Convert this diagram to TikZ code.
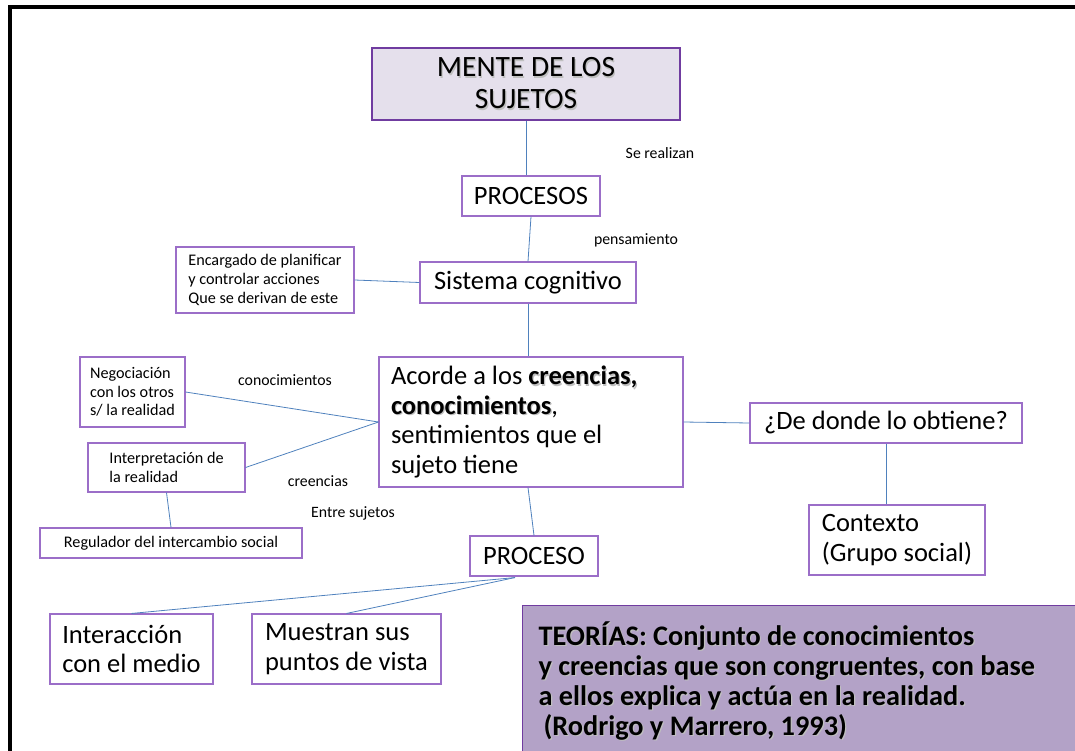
\documentclass[tikz,border=0pt]{standalone}
\usepackage{fontspec}
\setmainfont{Carlito}
\usetikzlibrary{calc}

\definecolor{boxpurple}{RGB}{155,110,200}
\definecolor{darkpurple}{RGB}{112,60,160}
\definecolor{linkblue}{RGB}{79,129,189}
\definecolor{mentefill}{RGB}{229,224,236}
\definecolor{teofill}{RGB}{179,162,199}

\newcommand{\shtext}[1]{\makebox[0pt][l]{\kern1.2pt\raisebox{-1.5pt}{\color{black!25}#1}}#1}
\newcommand{\smalltxt}{\fontsize{16.2}{18.6}\selectfont}
\newcommand{\bigtxt}{\fontsize{26.5}{29.5}\selectfont}

\begin{document}
\begin{tikzpicture}[x=1pt, y=-1pt,
	box/.style={draw=boxpurple, line width=1.1pt, fill=white, inner sep=0pt, align=left},
	link/.style={draw=linkblue, line width=0.8pt},
	tag/.style={font=\fontsize{15.8}{18}\selectfont, inner sep=0pt}]
\useasboundingbox (0,0) rectangle (1075,751);
% draw frame
	\draw[line width=4.5pt] (10,760) -- (10,7) -- (1085,7);
% draw boxes
	\node[box, draw=darkpurple, line width=1.8pt, fill=mentefill, align=center, minimum width=308, minimum height=72, font=\fontsize{29.5}{32}\selectfont] (mente) at (526,84) {\shtext{MENTE DE LOS}\\\shtext{SUJETOS}};
	\node[box, minimum width=138, minimum height=40, font=\bigtxt] (procesos) at (531,196) {PROCESOS};
	\node[box, minimum width=216, minimum height=41, font=\bigtxt] (sistema) at (528,282.5) {Sistema cognitivo};
	\node[box, minimum width=178, minimum height=66, font=\smalltxt] (encargado) at (265,280) {Encargado de planificar\\y controlar acciones\\Que se derivan de este};
	\node[box, align=flush left, text width=280, inner xsep=12, minimum height=130, font=\bigtxt] (acorde) at (531,422) {Acorde a los \textbf{\shtext{creencias,}}\\\textbf{\shtext{conocimientos}},\\sentimientos que el\\sujeto tiene};
	\node[box, minimum width=105, minimum height=70, font=\smalltxt] (negociacion) at (132.5,392) {Negociación\\con los otros\\s/ la realidad};
	\node[box, minimum width=157, minimum height=49, font=\smalltxt] (interpretacion) at (166.5,467.5) {Interpretación de\\la realidad};
	\node[box, minimum width=262, minimum height=30, font=\smalltxt] (regulador) at (171,543) {Regulador del intercambio social};
	\node[box, minimum width=128, minimum height=40, font=\bigtxt] (proceso) at (534,556) {PROCESO};
	\node[box, minimum width=163, minimum height=70, font=\bigtxt] (interaccion) at (131.5,649) {Interacción\\con el medio};
	\node[box, minimum width=189, minimum height=70, font=\bigtxt] (muestran) at (346.5,649) {Muestran sus\\puntos de vista};
	\node[box, minimum width=272, minimum height=40, font=\bigtxt] (donde) at (886,423) {¿De donde lo obtiene?};
	\node[box, minimum width=176, minimum height=70, font=\bigtxt] (contexto) at (897,540) {Contexto\\(Grupo social)};
	\node[box, draw=darkpurple, fill=teofill, anchor=north west, align=flush left, text width=560, inner xsep=16, minimum height=152, font=\fontsize{28.3}{30}\selectfont\bfseries] (teorias) at (522,605) {\shtext{TEORÍAS: Conjunto de conocimientos}\\\shtext{y creencias que son congruentes, con base}\\\shtext{a ellos explica y actúa en la realidad.}\\\hspace*{5pt}\shtext{(Rodrigo y Marrero, 1993)}};
% draw labels
	\node[tag] (realizan) at (660,153) {Se realizan};
	\node[tag] (pensamiento) at (636,240) {pensamiento};
	\node[tag] (conocimientos) at (285,380) {conocimientos};
	\node[tag] (creencias) at (318,481) {creencias};
	\node[tag] (entre) at (353,513) {Entre sujetos};
% draw links
	\coordinate (fork) at ($(proceso.south)+(-19,1)$);
	\draw[link] (mente.south) -- (mente.south |- procesos.north);
	\draw[link] (procesos.south) -- (sistema.north);
	\draw[link] (encargado.east) -- (sistema.west);
	\draw[link] (sistema.south) -- (acorde.north -| sistema.south);
	\draw[link] (negociacion.east) -- (acorde.west);
	\draw[link] (interpretacion.east) -- (acorde.west);
	\draw[link] (interpretacion.south) -- (regulador.north);
	\draw[link] (acorde.south -| sistema.south) -- (proceso.north);
	\draw[link] (fork) -- (interaccion.north);
	\draw[link] (fork) -- (muestran.north);
	\draw[link] (acorde.east) -- (donde.west);
	\draw[link] (donde.south) -- (contexto.north -| donde.south);
\end{tikzpicture}
\end{document}
